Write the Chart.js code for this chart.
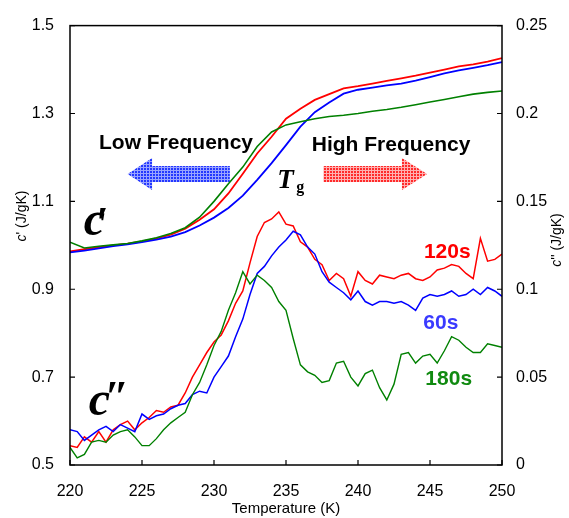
<!DOCTYPE html>
<html>
<head>
<meta charset="utf-8">
<script src="https://cdn.jsdelivr.net/npm/chart.js@4.4.1/dist/chart.umd.min.js"></script>
<style>
	html, body { margin: 0; padding: 0; background: #fff; }
</style>
</head>
<body>
<canvas id="heat-capacity" width="569" height="518"></canvas>
<script>
// temperature grid (K)
const temps_real = [220, 221, 222, 223, 224, 225, 226, 227, 228, 229, 230, 231, 232, 233, 234, 235,
	236, 237, 238, 239, 240, 241, 242, 243, 244, 245, 246, 247, 248, 249, 250];
const temps_imag = [220, 220.5, 221, 221.5, 222, 222.5, 223, 223.5, 224, 224.5, 225, 225.5, 226, 226.5,
	227, 227.5, 228, 228.5, 229, 229.5, 230, 230.5, 231, 231.5, 232, 232.5, 233, 233.5, 234, 234.5,
	235, 235.5, 236, 236.5, 237, 237.5, 238, 238.5, 239, 239.5, 240, 240.5, 241, 241.5, 242, 242.5,
	243, 243.5, 244, 244.5, 245, 245.5, 246, 246.5, 247, 247.5, 248, 248.5, 249, 249.5, 250];

// c' (J/gK), left axis
const cp_120s = [0.986, 0.991, 0.996, 1.000, 1.004, 1.009, 1.016, 1.024, 1.038, 1.058, 1.082, 1.118,
	1.163, 1.209, 1.247, 1.288, 1.311, 1.331, 1.344, 1.357, 1.362, 1.368, 1.374, 1.380, 1.386, 1.393,
	1.400, 1.407, 1.412, 1.418, 1.426];
const cp_60s = [0.984, 0.988, 0.993, 0.998, 1.002, 1.007, 1.013, 1.020, 1.030, 1.045, 1.063, 1.085,
	1.113, 1.149, 1.187, 1.228, 1.270, 1.303, 1.325, 1.345, 1.354, 1.359, 1.364, 1.368, 1.375, 1.383,
	1.391, 1.398, 1.404, 1.410, 1.417];
const cp_180s = [1.007, 0.994, 0.998, 1.001, 1.004, 1.010, 1.017, 1.027, 1.040, 1.064, 1.100, 1.140,
	1.178, 1.225, 1.258, 1.274, 1.281, 1.288, 1.293, 1.296, 1.300, 1.305, 1.309, 1.314, 1.320, 1.326,
	1.332, 1.338, 1.344, 1.348, 1.351];

// c'' (J/gK), right axis
const cpp_120s = [0.011, 0.010, 0.016, 0.013, 0.019, 0.013, 0.020, 0.023, 0.025, 0.020, 0.024, 0.027,
	0.031, 0.030, 0.033, 0.034, 0.041, 0.050, 0.057, 0.064, 0.070, 0.074, 0.082, 0.092, 0.099, 0.115,
	0.130, 0.138, 0.140, 0.144, 0.137, 0.136, 0.127, 0.124, 0.117, 0.114, 0.105, 0.109, 0.106, 0.096,
	0.110, 0.105, 0.103, 0.108, 0.107, 0.106, 0.108, 0.109, 0.106, 0.105, 0.107, 0.111, 0.112, 0.114,
	0.113, 0.109, 0.106, 0.129, 0.116, 0.117, 0.120];
const cpp_60s = [0.020, 0.019, 0.014, 0.017, 0.020, 0.022, 0.019, 0.023, 0.021, 0.019, 0.029, 0.026,
	0.028, 0.029, 0.032, 0.034, 0.035, 0.040, 0.042, 0.041, 0.050, 0.056, 0.062, 0.073, 0.083, 0.097,
	0.109, 0.113, 0.119, 0.124, 0.128, 0.133, 0.131, 0.124, 0.120, 0.110, 0.104, 0.101, 0.098, 0.094,
	0.099, 0.093, 0.091, 0.093, 0.093, 0.092, 0.093, 0.091, 0.088, 0.095, 0.097, 0.096, 0.097, 0.099,
	0.096, 0.097, 0.100, 0.097, 0.101, 0.099, 0.096];
const cpp_180s = [0.010, 0.004, 0.006, 0.013, 0.014, 0.013, 0.017, 0.019, 0.020, 0.016, 0.011, 0.011,
	0.015, 0.020, 0.024, 0.027, 0.030, 0.040, 0.047, 0.057, 0.068, 0.076, 0.088, 0.098, 0.110, 0.103,
	0.108, 0.105, 0.101, 0.093, 0.088, 0.072, 0.057, 0.053, 0.051, 0.047, 0.048, 0.058, 0.059, 0.050,
	0.045, 0.052, 0.054, 0.044, 0.037, 0.046, 0.063, 0.064, 0.058, 0.062, 0.063, 0.058, 0.065, 0.073,
	0.071, 0.067, 0.064, 0.064, 0.069, 0.068, 0.067];

const red = "#ff0000";
const blue = "#0000ff";
const green = "#008000";

let pair = (xs, ys) => xs.map((x, i) => ({ x: x, y: ys[i] }));

let mesh = (base, light) => {
	const tile = document.createElement("canvas");
	tile.width = 3;
	tile.height = 3;
	const t = tile.getContext("2d");
	t.fillStyle = base;
	t.fillRect(0, 0, 3, 3);
	t.fillStyle = light;
	t.fillRect(0, 2, 3, 1);
	t.fillRect(2, 0, 1, 3);
	return t.createPattern(tile, "repeat");
};

// fat arrow, tip at x_tip, head base at x_head, tail at x_tail
let draw_arrow = (ctx, x_tail, x_head, x_tip, y, fill) => {
	ctx.beginPath();
	ctx.moveTo(x_tail, y - 8);
	ctx.lineTo(x_head, y - 8);
	ctx.lineTo(x_head, y - 16);
	ctx.lineTo(x_tip, y);
	ctx.lineTo(x_head, y + 16);
	ctx.lineTo(x_head, y + 8);
	ctx.lineTo(x_tail, y + 8);
	ctx.closePath();
	ctx.fillStyle = fill;
	ctx.fill();
};

// rotated axis title with an italic "c"
let axis_title = (ctx, cx, cy, primes) => {
	const italic = "italic 14px 'Liberation Sans'";
	const plain = "14px 'Liberation Sans'";
	const rest = primes + " (J/gK)";
	ctx.save();
	ctx.translate(cx, cy);
	ctx.rotate(-Math.PI / 2);
	ctx.font = italic;
	const w1 = ctx.measureText("c").width;
	ctx.font = plain;
	const w2 = ctx.measureText(rest).width;
	const x0 = -(w1 + w2) / 2;
	ctx.textAlign = "left";
	ctx.font = italic;
	ctx.fillText("c", x0, 0);
	ctx.font = plain;
	ctx.fillText(rest, x0 + w1, 0);
	ctx.restore();
};

const frame_plugin = {
	id: "frame",
	beforeDatasetsDraw(chart) {
		const { ctx, scales } = chart;
		const x = scales.x, y = scales.y;
		ctx.save();
		draw_arrow(ctx, x.getPixelForValue(231.1), x.getPixelForValue(225.7), x.getPixelForValue(224.0),
			y.getPixelForValue(1.162), mesh("#2438ff", "#9aa4ff"));
		draw_arrow(ctx, x.getPixelForValue(237.6), x.getPixelForValue(243.05), x.getPixelForValue(244.8),
			y.getPixelForValue(1.162), mesh("#ff2a2a", "#ffb0b0"));
		ctx.restore();
	},
	afterDraw(chart) {
		const { ctx, chartArea: area, scales } = chart;
		const x = scales.x, y = scales.y, y2 = scales.y2;
		ctx.save();

		// box round the plot
		ctx.strokeStyle = "#000";
		ctx.lineWidth = 1.5;
		ctx.strokeRect(area.left, area.top, area.right - area.left, area.bottom - area.top);

		// inward tick marks
		ctx.lineWidth = 1.2;
		ctx.beginPath();
		x.ticks.forEach((t) => {
			const px = x.getPixelForValue(t.value);
			ctx.moveTo(px, area.bottom);
			ctx.lineTo(px, area.bottom - 5);
		});
		y.ticks.forEach((t) => {
			const py = y.getPixelForValue(t.value);
			ctx.moveTo(area.left, py);
			ctx.lineTo(area.left + 5, py);
		});
		y2.ticks.forEach((t) => {
			const py = y2.getPixelForValue(t.value);
			ctx.moveTo(area.right, py);
			ctx.lineTo(area.right - 5, py);
		});
		ctx.stroke();

		// axis titles
		ctx.fillStyle = "#000";
		ctx.textBaseline = "middle";
		axis_title(ctx, 22, 216, "'");
		axis_title(ctx, 557, 240, "''");
		ctx.textAlign = "center";
		ctx.font = "15px 'Liberation Sans'";
		ctx.fillText("Temperature (K)", (area.left + area.right) / 2, 509);

		// frequency labels
		ctx.font = "bold 21px 'Liberation Sans'";
		ctx.fillText("Low Frequency", x.getPixelForValue(227.36), y.getPixelForValue(1.232));
		ctx.fillText("High Frequency", x.getPixelForValue(242.3), y.getPixelForValue(1.2275));

		// period labels
		ctx.fillStyle = red;
		ctx.fillText("120s", x.getPixelForValue(246.2), y2.getPixelForValue(0.121));
		ctx.fillStyle = "#3a3aff";
		ctx.fillText("60s", x.getPixelForValue(245.75), y2.getPixelForValue(0.0805));
		ctx.fillStyle = "#108a10";
		ctx.fillText("180s", x.getPixelForValue(246.3), y2.getPixelForValue(0.049));

		// c', c'' and Tg
		ctx.fillStyle = "#000";
		ctx.textAlign = "left";
		ctx.textBaseline = "alphabetic";
		const c1_x = x.getPixelForValue(220.95), c1_y = y.getPixelForValue(1.0225);
		const c2_x = x.getPixelForValue(221.3), c2_y = y.getPixelForValue(0.613);
		ctx.font = "italic bold 48px 'Liberation Serif'";
		ctx.fillText("c", c1_x, c1_y);
		ctx.fillText("c", c2_x, c2_y);
		ctx.font = "italic bold 44px 'Liberation Serif'";
		ctx.fillText("\u2032", c1_x + 12, c1_y + 2);
		ctx.fillText("\u2033", c2_x + 16, c2_y - 4);
		ctx.font = "italic bold 27px 'Liberation Serif'";
		const tg_x = x.getPixelForValue(234.4), tg_y = y.getPixelForValue(1.131);
		ctx.fillText("T", tg_x, tg_y);
		ctx.font = "bold 16px 'Liberation Serif'";
		ctx.fillText("g", tg_x + 19, tg_y + 4);

		ctx.restore();
	}
};

const line = (label, data, color, axis, width) => ({
	label: label,
	data: data,
	borderColor: color,
	borderWidth: width,
	pointRadius: 0,
	fill: false,
	tension: 0,
	yAxisID: axis
});

const config = {
	type: "line",
	data: {
		datasets: [
			line("c' 180s", pair(temps_real, cp_180s), green, "y", 1.6),
			line("c' 60s", pair(temps_real, cp_60s), blue, "y", 1.8),
			line("c' 120s", pair(temps_real, cp_120s), red, "y", 1.8),
			line("c'' 180s", pair(temps_imag, cpp_180s), green, "y2", 1.4),
			line("c'' 60s", pair(temps_imag, cpp_60s), blue, "y2", 1.5),
			line("c'' 120s", pair(temps_imag, cpp_120s), red, "y2", 1.5)
		]
	},
	options: {
		responsive: false,
		animation: false,
		layout: { padding: { top: 21, left: 0, right: 0, bottom: 0 } },
		plugins: {
			legend: { display: false },
			tooltip: { enabled: false }
		},
		scales: {
			x: {
				type: "linear",
				min: 220,
				max: 250,
				grid: { display: false, drawTicks: false },
				border: { display: false },
				ticks: { stepSize: 5, padding: 17, color: "#000", font: { size: 16, family: "'Liberation Sans'" } },
				afterFit: (scale) => { scale.height = 53; }
			},
			y: {
				position: "left",
				min: 0.5,
				max: 1.5,
				grid: { display: false, drawTicks: false },
				border: { display: false },
				ticks: {
					stepSize: 0.2,
					padding: 16,
					color: "#000",
					font: { size: 16, family: "'Liberation Sans'" },
					callback: (v) => v.toFixed(1)
				},
				afterFit: (scale) => { scale.width = 70; }
			},
			y2: {
				position: "right",
				min: 0,
				max: 0.25,
				grid: { display: false, drawTicks: false },
				border: { display: false },
				ticks: {
					stepSize: 0.05,
					padding: 14,
					color: "#000",
					font: { size: 16, family: "'Liberation Sans'" },
					callback: (v) => String(+v.toFixed(2))
				},
				afterFit: (scale) => { scale.width = 67; }
			}
		}
	},
	plugins: [frame_plugin]
};

new Chart(document.getElementById("heat-capacity"), config);
</script>
</body>
</html>
